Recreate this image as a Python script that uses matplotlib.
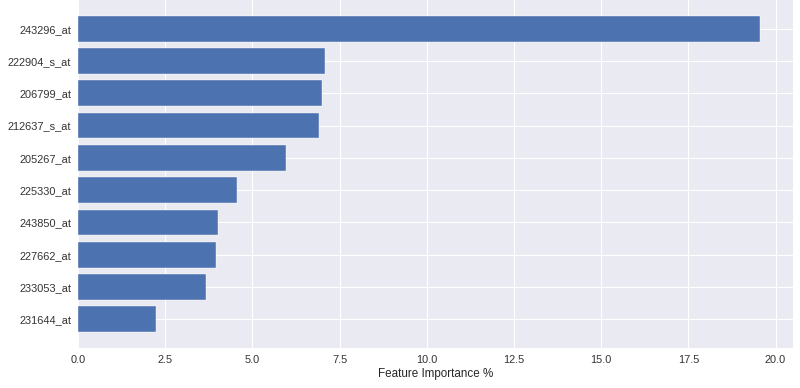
import matplotlib
matplotlib.use("Agg")
import matplotlib.pyplot as plt
import numpy as np

# feature importances (%), top feature last so it lands at the top
features = ["231644_at", "233053_at", "227662_at", "243850_at", "225330_at",
            "205267_at", "212637_s_at", "206799_at", "222904_s_at", "243296_at"]
importance = [2.25, 3.68, 3.96, 4.02, 4.57, 5.95, 6.90, 6.99, 7.08, 19.54]

plt.rcParams["font.family"] = ["Liberation Sans", "DejaVu Sans"]

fig = plt.figure(figsize=(800 / 72, 388 / 72), dpi=72)
ax = fig.add_axes([78 / 800, 1 - 348 / 388, (793 - 78) / 800, 348 / 388])
ax.set_facecolor("#EAEAF2")
fig.patch.set_facecolor("white")

pos = np.arange(len(features))
ax.barh(pos, importance, height=0.8, color="#4C72B0",
        edgecolor="white", linewidth=0.4, zorder=2)

ax.set_yticks(pos)
ax.set_yticklabels(features)
ax.set_xticks(np.arange(0, 20.1, 2.5))
ax.margins(y=0.05)
ax.set_xlim(0, 20.5)

ax.grid(True, color="white", linewidth=1.0, zorder=0)
ax.set_axisbelow(True)
for spine in ax.spines.values():
    spine.set_visible(False)
ax.tick_params(length=0, labelsize=11, colors="#333333", pad=7)
ax.set_xlabel("Feature Importance %", fontsize=11.6, color="#262626", labelpad=3)

fig.savefig("out.png", dpi=72, facecolor=fig.get_facecolor())
